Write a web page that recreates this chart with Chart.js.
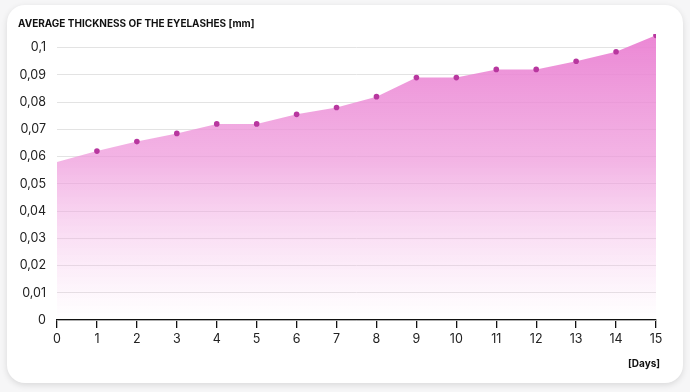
<!DOCTYPE html>
<html>
<head>
<meta charset="utf-8">
<script src="https://cdn.jsdelivr.net/npm/chart.js@4.4.1/dist/chart.umd.min.js"></script>
<style>
  html, body { margin: 0; padding: 0; width: 690px; height: 392px; background: #f6f6f7; overflow: hidden; font-family: Inter, "Open Sans", sans-serif; }
  #card { position: absolute; left: 7px; top: 5px; width: 676px; height: 378px; background: #fff; border-radius: 18px; box-shadow: 0 2px 6px rgba(0,0,0,0.12); }
  #wrap { position: absolute; left: 0; top: 0; width: 690px; height: 392px; }
  #title { position: absolute; left: 18px; top: 17px; font-size: 10px; font-weight: 700; color: #111; letter-spacing: 0; }
  #xunit { position: absolute; left: 628px; top: 357px; font-size: 10px; font-weight: 700; color: #111; }
</style>
</head>
<body>
<div id="card"></div>
<div id="wrap"><canvas id="c" width="690" height="392"></canvas></div>
<div id="title">AVERAGE THICKNESS OF THE EYELASHES [mm]</div>
<div id="xunit">[Days]</div>
<script>
const days = [0,1,2,3,4,5,6,7,8,9,10,11,12,13,14,15];
const thickness = [0.058,0.062,0.0655,0.0685,0.072,0.072,0.0755,0.078,0.082,0.089,0.089,0.092,0.092,0.095,0.0985,0.1045];
const yTicks = [0,0.01,0.02,0.03,0.04,0.05,0.06,0.07,0.08,0.09,0.1];

function fmt(v) {
  const r = Math.round(v * 100) / 100;
  return String(r).replace('.', ',');
}

const ctx = document.getElementById('c').getContext('2d');
new Chart(ctx, {
  type: 'line',
  data: {
    labels: days,
    datasets: [{
      data: thickness,
      fill: 'origin',
      tension: 0,
      borderWidth: 0,
      borderColor: 'rgba(0,0,0,0)',
      backgroundColor: (c) => {
        const ca = c.chart.chartArea;
        if (!ca) return 'rgba(236,140,214,0.6)';
        const g = c.chart.ctx.createLinearGradient(0, ca.top, 0, ca.bottom);
        g.addColorStop(0, 'rgba(234,128,210,0.95)');
        g.addColorStop(0.45, 'rgba(238,150,218,0.7)');
        g.addColorStop(1, 'rgba(245,190,235,0.0)');
        return g;
      },
      pointRadius: days.map((d, i) => i === 0 ? 0 : 2.8),
      pointBackgroundColor: '#b8379f',
      pointBorderWidth: 0,
      pointHoverRadius: 3
    }]
  },
  options: {
    responsive: false,
    animation: false,
    layout: { padding: { left: 0, right: 34, top: 34, bottom: 0 } },
    plugins: { legend: { display: false }, tooltip: { enabled: false } },
    scales: {
      x: {
        type: 'linear',
        min: 0, max: 15,
        afterBuildTicks: (s) => { s.ticks = days.map(v => ({ value: v })); },
        afterFit: (s) => { s.height = 72; },
        border: { display: true, color: '#111', width: 1.3 },
        grid: { display: true, drawOnChartArea: false, drawTicks: true, tickLength: 8, color: '#111', lineWidth: 1.3 },
        ticks: { color: '#222', font: { family: 'Inter', size: 12.5 }, padding: 4, maxRotation: 0, autoSkip: false }
      },
      y: {
        min: 0, max: 0.105,
        afterBuildTicks: (s) => { s.ticks = yTicks.map(v => ({ value: v })); },
        afterFit: (s) => { s.width = 57; },
        border: { display: false },
        grid: { color: '#e3e3e3', lineWidth: 1, drawTicks: false },
        ticks: { color: '#222', font: { family: 'Inter', size: 12.5 }, padding: 11, callback: (v) => fmt(v) }
      }
    }
  }
});
</script>
</body>
</html>
